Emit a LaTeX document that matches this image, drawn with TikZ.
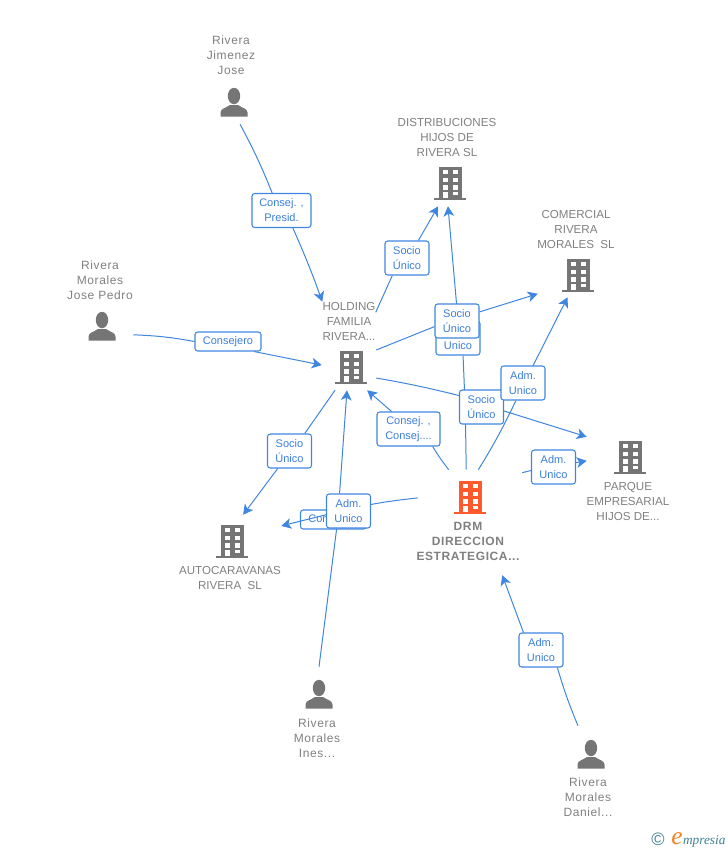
\documentclass[tikz,border=0pt]{standalone}
\usepackage{fontspec}
\setmainfont{Liberation Sans}
\newfontfamily\spacedfont[LetterSpace=5]{Liberation Sans}
\usetikzlibrary{arrows.meta,positioning}
\pgfdeclarelayer{wires}
\pgfsetlayers{wires,main}
\definecolor{linkblue}{HTML}{3F86E0}
\definecolor{tagtext}{HTML}{3B7FDB}
\definecolor{namegray}{HTML}{808080}
\definecolor{icongray}{HTML}{757575}
\definecolor{drmred}{HTML}{FF5A2B}
\definecolor{logoteal}{HTML}{3F7F94}
\definecolor{logoorange}{HTML}{F58220}
\tikzset{
  wire/.style={linkblue, line width=0.75pt},
  wirearrow/.style={wire, -{Stealth[length=7.5pt,width=8pt,inset=2pt]}},
  tagbox/.style={draw=linkblue, line width=0.8pt, rounded corners=2pt, fill=white, text=tagtext,
    align=center, inner sep=0pt, minimum width=33pt, minimum height=25.5pt,
    font=\fontsize{8.25}{11.25}\selectfont},
  tagline/.style={tagbox, minimum width=49.5pt, minimum height=14.25pt},
  firmlabel/.style={text=namegray, align=center, inner sep=0pt, font=\fontsize{8.7}{11.25}\selectfont},
  namelabel/.style={text=namegray, align=center, inner sep=0pt, font=\fontsize{9}{11.25}\selectfont\spacedfont},
  spot/.style n args={2}{inner sep=0pt, minimum width=#1*0.75pt, minimum height=#2*0.75pt},
  pics/bldg/.style={code={
    \fill[#1] (-11.5,-16.5) rectangle (11.5,15);
    \fill[#1] (-16,15) rectangle (16,17);
    \foreach \ya/\yb in {-13.5/-9,-5.3/-0.8,2.3/6.5}{
      \fill[white] (-7.3,\ya) rectangle (-2,\yb);
      \fill[white] (2.7,\ya) rectangle (8,\yb);
    }
    \fill[white] (-7.3,8.5) rectangle (-2,15);
    \fill[white] (2.7,8.5) rectangle (8,11.5);
  }},
  pics/person/.style={code={
    \fill[icongray] (0,-7) ellipse (6.2 and 8.2);
    \fill[icongray] (-13.5,13.5) -- (-13.5,9.5) .. controls (-13.5,5.5) and (-8,5) .. (-4,2) -- (4,2)
      .. controls (8,5) and (13.5,5.5) .. (13.5,9.5) -- (13.5,13.5) -- cycle;
  }}
}
\begin{document}
\begin{tikzpicture}[x=0.75pt,y=-0.75pt]
\useasboundingbox (0,0) rectangle (728,850);
% companies
\node[spot={54}{46}] (holding) at (349,367) {};
\pic at (351,367) {bldg=icongray};
\node[firmlabel] (holdingtxt) at (349,321) {HOLDING\\FAMILIA\\RIVERA...};
\node[spot={60}{46}] (distrib) at (450,183) {};
\pic at (distrib) {bldg=icongray};
\node[firmlabel] (distribtxt) at (447,138) {DISTRIBUCIONES\\HIJOS DE\\RIVERA SL};
\node[spot={80}{44}] (comercial) at (578,275) {};
\pic at (comercial) {bldg=icongray};
\node[firmlabel] (comercialtxt) at (576,230) {COMERCIAL\\RIVERA\\MORALES\ \ SL};
\node[spot={86}{60}] (parque) at (630,457) {};
\pic at (parque) {bldg=icongray};
\node[firmlabel] (parquetxt) at (628,501) {PARQUE\\EMPRESARIAL\\HIJOS DE...};
\node[spot={98}{52}] (auto) at (232,541) {};
\pic at (auto) {bldg=icongray};
\node[firmlabel] (autotxt) at (230,577.5) {AUTOCARAVANAS\\RIVERA\ \ SL};
\node[spot={104}{54}] (drm) at (470,497) {};
\pic at (drm) {bldg=drmred};
\node[namelabel, minimum height=51pt, font=\fontsize{9}{11.25}\selectfont\spacedfont\bfseries] (drmtxt) at (468,541) {DRM\\DIRECCION\\ESTRATEGICA...};
% people
\node[spot={40}{42}] (jimenez) at (234,103) {};
\pic at (jimenez) {person};
\node[namelabel] (jimeneztxt) at (231,55) {Rivera\\Jimenez\\Jose};
\node[spot={62}{40}] (josepedro) at (102,327) {};
\pic at (josepedro) {person};
\node[namelabel] (josepedrotxt) at (100,280) {Rivera\\Morales\\Jose Pedro};
\node[spot={40}{56}] (ines) at (319,695) {};
\pic at (ines) {person};
\node[namelabel] (inestxt) at (317,738) {Rivera\\Morales\\Ines...};
\node[spot={40}{58}] (daniel) at (591,755) {};
\pic at (daniel) {person};
\node[namelabel] (danieltxt) at (588,797) {Rivera\\Morales\\Daniel...};
% tags
\node[tagbox, minimum width=44.25pt] (tagjimenez) at (281.5,210.5) {Consej. ,\\Presid.};
\node[tagline] (tagpedro) at (228,341.5) {Consejero};
\node[tagbox] (tagdistrib) at (407,258) {Socio\\Único};
\node[tagbox] (tagadmdistrib) at (458,338) {Adm.\\Unico};
\node[tagbox] (tagcomercial) at (457,321) {Socio\\Único};
\node[tagbox] (tagparque) at (481.5,407) {Socio\\Único};
\node[tagbox] (tagadmcomercial) at (523,383) {Adm.\\Unico};
\node[tagbox] (tagadmparque) at (553.5,467) {Adm.\\Unico};
\node[tagbox, minimum width=47.25pt] (tagconsej) at (408.5,429) {Consej. ,\\Consej....};
\node[tagbox] (tagauto) at (289.5,451) {Socio\\Único};
\node[tagline] (tagdrmauto) at (333.5,519.5) {Consejero};
% this one runs over its own tag
\coordinate (drmautobend) at (333,513);
\draw[wire] (drm.181) to[bend right=4] (drmautobend);
\draw[wirearrow] (drmautobend) -- (auto.17);
\node[tagbox] (tagines) at (348.5,511) {Adm.\\Unico};
\node[tagbox] (tagdaniel) at (541,650) {Adm.\\Unico};
% connectors
\begin{pgfonlayer}{wires}
\draw[wire] (jimenez.-74) to[bend left=3] (tagjimenez.118);
\draw[wirearrow] (tagjimenez.-57) to[bend left=2] (holdingtxt.north west);
\draw[wire] (josepedro.-14) to[bend left=4] (tagpedro.west);
\draw[wirearrow] (tagpedro.-21) -- (holding.176);
\draw[wire] (holdingtxt.18) -- (tagdistrib.230);
\draw[wirearrow] (tagdistrib.57) -- (distrib.243);
\draw[wire] (holding.32) -- (tagcomercial.194);
\draw[wirearrow] (tagcomercial.22) -- (comercial.205);
\draw[wire] (holding.-22) to[bend left=2] (tagparque.153);
\draw[wirearrow] (tagparque.-10) -- (parque.155);
\draw[wire] (holding.239) -- (tagauto.49);
\draw[wirearrow] (tagauto.236) -- (auto.67);
\draw[wire] (drm.98) to[bend right=1] (tagadmdistrib.-74);
\draw[wirearrow] (tagadmdistrib.north) -- (distrib.265);
\draw[wire] (drm.73.5) to[bend right=3] (tagadmcomercial.248);
\draw[wirearrow] (tagadmcomercial.60) -- (comercial.245.6);
\draw[wire] (drm.25) -- (tagadmparque.189);
\draw[wirearrow] (tagadmparque.11) -- (parque.185);
\draw[wire] (drm.128) to[bend left=3] (tagconsej.-36);
\draw[wirearrow] (tagconsej.134) -- (holding.308);
\draw[wire] (ines.north) -- (tagines.236);
\draw[wirearrow] (tagines.117) -- (holding.265);
\draw[wire] (daniel.114) to[bend left=3] (tagdaniel.-47);
\draw[wirearrow] (tagdaniel.135) -- (drmtxt.-45);
\end{pgfonlayer}
% logo
\node[text=logoteal, inner sep=0pt, font=\fontsize{13.5}{13.5}\selectfont] (logomark) at (658,839) {©};
\node[text=logoorange, inner sep=0pt, anchor=base west, font=\fontsize{19}{19}\selectfont\fontspec{Liberation Serif}\itshape] (logoe) at (671,844) {e};
\node[text=logoteal, inner sep=0pt, anchor=base west, font=\fontsize{10}{10}\selectfont\fontspec{Liberation Serif}\itshape] (logoword) at (logoe.base east) {mpresia};
\end{tikzpicture}
\end{document}
